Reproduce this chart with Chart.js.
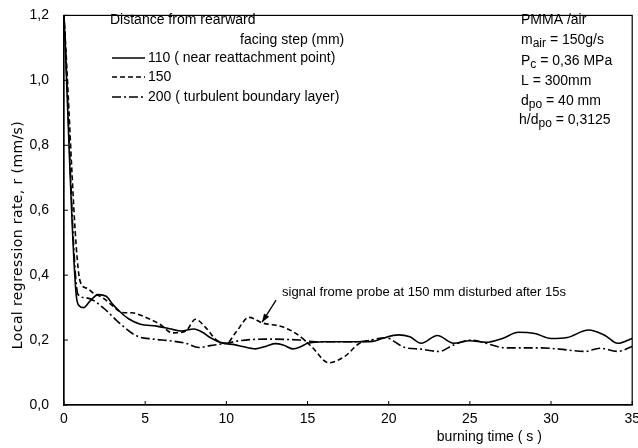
<!DOCTYPE html>
<html>
<head>
<meta charset="utf-8">
<script src="https://cdn.jsdelivr.net/npm/chart.js@4"></script>
<style>
  body { margin: 0; background: #fff; }
  #wrap { width: 638px; height: 448px; }
</style>
</head>
<body>
<div id="wrap"><canvas id="myChart" width="638" height="448"></canvas></div>
<script>
// burning time (s) and local regression rate (mm/s)
const time110 = [0, 0.75, 0.95, 1.2, 1.6, 2.1, 2.6, 3.0, 3.5, 4.0, 4.7, 5.7, 6.5, 7.2, 8.0, 8.5, 9.0, 9.8, 10.5, 11.0, 11.8, 12.5, 13.0, 13.5, 14.1, 14.6, 15.0, 16, 17, 18, 19, 19.6, 20.6, 21.3, 22.0, 23.0, 24.0, 25.0, 26.0, 27.0, 28.0, 29.0, 30.0, 31.0, 32.3, 33.3, 34.1, 35];
const rate110 = [1.2, 0.34, 0.305, 0.30, 0.32, 0.34, 0.335, 0.31, 0.285, 0.265, 0.249, 0.243, 0.235, 0.228, 0.234, 0.225, 0.208, 0.19, 0.186, 0.18, 0.173, 0.182, 0.189, 0.185, 0.173, 0.18, 0.19, 0.195, 0.195, 0.195, 0.196, 0.205, 0.216, 0.21, 0.19, 0.214, 0.19, 0.198, 0.193, 0.205, 0.224, 0.22, 0.205, 0.208, 0.231, 0.215, 0.19, 0.205];

const time150 = [0, 1.0, 1.4, 1.8, 2.4, 3.0, 3.6, 4.2, 4.85, 5.9, 6.7, 7.5, 8.1, 8.7, 9.4, 10.0, 10.6, 11.4, 12.2, 13.5, 14.5, 15.3, 16.3, 17.3, 18.2, 19.0];
const rate150 = [1.2, 0.38, 0.36, 0.345, 0.33, 0.305, 0.285, 0.284, 0.274, 0.249, 0.222, 0.228, 0.264, 0.24, 0.2, 0.19, 0.225, 0.27, 0.253, 0.24, 0.213, 0.177, 0.13, 0.15, 0.19, 0.2];

const time200 = [0, 0.87, 1.4, 2.4, 3.4, 4.46, 5.5, 6.5, 7.5, 8.3, 9.0, 10.0, 10.8, 12.4, 14.5, 15.5, 17, 18.2, 19.8, 21.0, 22.0, 23.1, 24.0, 25.1, 26, 27.2, 28.5, 29.4, 30.5, 32.1, 33, 34.1, 35];
const rate200 = [1.2, 0.34, 0.33, 0.30, 0.253, 0.213, 0.203, 0.198, 0.19, 0.177, 0.183, 0.19, 0.198, 0.203, 0.2, 0.195, 0.195, 0.195, 0.207, 0.177, 0.172, 0.165, 0.185, 0.2, 0.19, 0.176, 0.176, 0.176, 0.172, 0.165, 0.175, 0.165, 0.18];

const legendLabels = ["110 ( near reattachment point)", "150", "200 ( turbulent boundary layer)"];
const xTicks = [0, 5, 10, 15, 20, 25, 30, 35];
const yTicks = [0, 0.2, 0.4, 0.6, 0.8, 1.0, 1.2];

const FONT = '"Liberation Sans", Arial, sans-serif';
const dashes = [[], [5, 3], [9, 3, 2, 3]];

function pts(t, v) {
  return t.map((x, i) => ({ x: x, y: v[i] }));
}

function drawSub(ctx, parts, x, y) {
  // parts: [text, isSubscript]
  parts.forEach((p) => {
    if (p[1]) {
      ctx.font = "12px " + FONT;
      ctx.fillText(p[0], x, y + 4);
    } else {
      ctx.font = "14px " + FONT;
      ctx.fillText(p[0], x, y);
    }
    x += ctx.measureText(p[0]).width;
  });
}

const overlay = {
  id: "overlay",
  afterDraw(chart) {
    const { ctx, chartArea: a, scales } = chart;
    const xs = scales.x, ys = scales.y;
    ctx.save();
    ctx.strokeStyle = "#000";
    ctx.lineWidth = 1.2;
    ctx.strokeRect(a.left, a.top, a.right - a.left, a.bottom - a.top);

    // small inward ticks
    ctx.lineWidth = 1;
    yTicks.forEach((v) => {
      const py = ys.getPixelForValue(v);
      ctx.beginPath(); ctx.moveTo(a.left, py); ctx.lineTo(a.left + 4, py); ctx.stroke();
    });
    xTicks.forEach((v) => {
      const px = xs.getPixelForValue(v);
      ctx.beginPath(); ctx.moveTo(px, a.bottom); ctx.lineTo(px, a.bottom - 4); ctx.stroke();
    });

    ctx.fillStyle = "#000";
    ctx.textBaseline = "middle";
    ctx.textAlign = "left";
    ctx.font = "14px " + FONT;

    // legend block
    ctx.fillText("Distance from rearward", 110, 20);
    ctx.fillText("facing step (mm)", 240, 40);
    const ly = [58, 77, 97];
    legendLabels.forEach((lab, i) => {
      ctx.save();
      ctx.lineWidth = 1.6;
      ctx.setLineDash(dashes[i]);
      ctx.beginPath(); ctx.moveTo(112, ly[i]); ctx.lineTo(145, ly[i]); ctx.stroke();
      ctx.restore();
      ctx.fillText(lab, 148, ly[i]);
    });

    // conditions block
    ctx.fillText("PMMA /air", 521, 20);
    drawSub(ctx, [["m", 0], ["air", 1], [" = 150g/s", 0]], 521, 40);
    drawSub(ctx, [["P", 0], ["c", 1], [" = 0,36 MPa", 0]], 521, 61);
    drawSub(ctx, [["L = 300mm", 0]], 521, 81);
    drawSub(ctx, [["d", 0], ["po", 1], [" = 40 mm", 0]], 521, 101);
    drawSub(ctx, [["h/d", 0], ["po", 1], [" = 0,3125", 0]], 519, 120);

    // note with arrow
    ctx.font = "13px " + FONT;
    ctx.fillText("signal frome probe at 150 mm disturbed after 15s", 282, 292);
    const tipX = xs.getPixelForValue(12.2), tipY = ys.getPixelForValue(0.255);
    const tailX = tipX + 14, tailY = tipY - 22;
    ctx.lineWidth = 1.3;
    ctx.beginPath(); ctx.moveTo(tailX, tailY); ctx.lineTo(tipX, tipY); ctx.stroke();
    const ang = Math.atan2(tipY - tailY, tipX - tailX);
    ctx.beginPath();
    ctx.moveTo(tipX, tipY);
    ctx.lineTo(tipX - 9 * Math.cos(ang - 0.35), tipY - 9 * Math.sin(ang - 0.35));
    ctx.lineTo(tipX - 9 * Math.cos(ang + 0.35), tipY - 9 * Math.sin(ang + 0.35));
    ctx.closePath(); ctx.fill();

    // x axis title
    ctx.font = "14px " + FONT;
    ctx.textAlign = "center";
    ctx.fillText("burning time ( s )", xs.getPixelForValue(26.2), 437);

    // y axis title
    ctx.save();
    ctx.translate(18, 235);
    ctx.rotate(-Math.PI / 2);
    ctx.font = '14px "DejaVu Sans", sans-serif';
    ctx.letterSpacing = "0.4px";
    ctx.fillText("Local regression rate, r (mm/s)", 0, 0);
    ctx.restore();
    ctx.restore();
  },
};

const ctx = document.getElementById("myChart");

new Chart(ctx, {
  type: "line",
  data: {
    datasets: [
      { label: legendLabels[0], data: pts(time110, rate110), borderDash: dashes[0] },
      { label: legendLabels[1], data: pts(time150, rate150), borderDash: dashes[1] },
      { label: legendLabels[2], data: pts(time200, rate200), borderDash: dashes[2] },
    ].map((d) => Object.assign(d, {
      borderColor: "#000",
      borderWidth: 1.6,
      pointRadius: 0,
      fill: false,
      cubicInterpolationMode: "monotone",
    })),
  },
  options: {
    responsive: false,
    animation: false,
    layout: { padding: { top: 10, right: 4, left: 0, bottom: 0 } },
    plugins: {
      legend: { display: false },
      tooltip: { enabled: false },
    },
    scales: {
      x: {
        type: "linear",
        min: 0,
        max: 35,
        afterBuildTicks: (s) => { s.ticks = xTicks.map((v) => ({ value: v })); },
        ticks: { color: "#000", font: { size: 14, family: FONT }, padding: -2, maxRotation: 0 },
        grid: { display: false },
        border: { color: "#000", width: 1.2 },
        afterFit: (s) => { s.height = 43; },
      },
      y: {
        min: 0,
        max: 1.2,
        afterBuildTicks: (s) => { s.ticks = yTicks.map((v) => ({ value: v })); },
        ticks: {
          color: "#000",
          font: { size: 14, family: FONT },
          padding: 7,
          callback: (v) => v.toFixed(1).replace(".", ","),
        },
        grid: { display: false },
        border: { color: "#000", width: 1.2 },
        afterFit: (s) => { s.width = 64; },
      },
    },
  },
  plugins: [overlay],
});
</script>
</body>
</html>
